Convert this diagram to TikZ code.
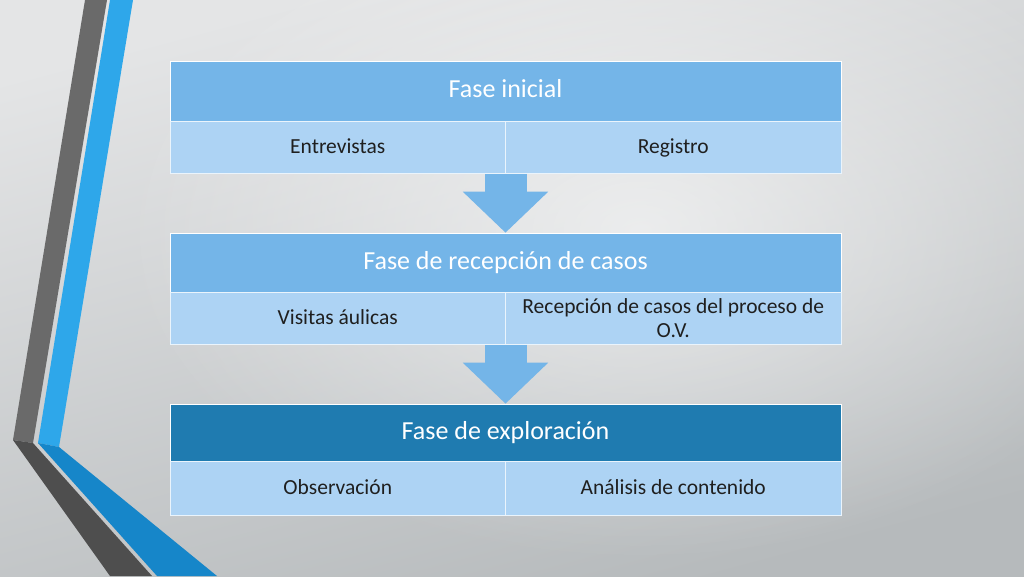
\documentclass[tikz,border=0pt]{standalone}
\usepackage{fontspec}
\setmainfont{Carlito}
\usetikzlibrary{positioning,arrows.meta,fadings}

\definecolor{fondoA}{HTML}{E4E5E6}
\definecolor{fondoB}{HTML}{B6BABC}
\definecolor{azulclaro}{HTML}{74B5E8}
\definecolor{azulpalido}{HTML}{ADD3F4}
\definecolor{azuloscuro}{HTML}{1F7BB0}
\definecolor{grisbanda}{HTML}{6A6A6A}
\definecolor{grisosc}{HTML}{4E4E4E}
\definecolor{azulbanda}{HTML}{2EA7EA}
\definecolor{azulbandaosc}{HTML}{1686C9}

\tikzfading[name=resplandor, inner color=transparent!0, outer color=transparent!100]

\tikzset{
	fase/.style={rectangle, fill=azulclaro, draw=white, line width=0.6pt, minimum width=671pt, text=white, font=\fontsize{26}{30}\selectfont, inner sep=0pt, text height=18pt, text depth=5pt},
	tarea/.style={rectangle, fill=azulpalido, draw=white!75!azulpalido, line width=0.6pt, minimum width=335.5pt, minimum height=52pt, text=black!88, font=\fontsize{21.5}{24}\selectfont, inner sep=0pt, align=center, text height=15pt, text depth=4pt},
	flecha/.style={line width=42pt, azulclaro, -{Triangle[length=41pt,width=83pt]}}
}

\begin{document}
\begin{tikzpicture}[x=1pt,y=-1pt]
	\useasboundingbox (0,0) rectangle (1024,576);
	\shade[top color=fondoA, bottom color=fondoB, shading angle=15] (0,0) rectangle (1024,576);
	\fill[white, path fading=resplandor, opacity=0.6] (640,230) ellipse (520 and 330);

	% bandas de la izquierda
	\fill[grisbanda] (85,0) -- (107,0) -- (33,443) -- (13,440) -- cycle;
	\fill[grisosc] (13,440) -- (33,443) -- (152,576) -- (110,576) -- cycle;
	\fill[azulbanda] (110,0) -- (133,0) -- (59,447) -- (38,443) -- cycle;
	\fill[azulbandaosc] (38,443) -- (59,447) -- (217,576) -- (157,576) -- cycle;

	\node[fase, minimum height=60pt] (f1) at (505.5, 91) {Fase inicial};
	\node[tarea, below right=0pt and 0pt of f1.south west] (t1a) {Entrevistas};
	\node[tarea, below left=0pt and 0pt of f1.south east] (t1b) {Registro};

	\node[fase, minimum height=59pt] (f2) at (505.5, 262.5) {Fase de recepción de casos};
	\node[tarea, below right=0pt and 0pt of f2.south west] (t2a) {Visitas áulicas};
	\node[tarea, text height=, text depth=, below left=0pt and 0pt of f2.south east] (t2b) {Recepción de casos del proceso de\\O.V.};

	\node[fase, fill=azuloscuro, minimum height=57pt] (f3) at (505.5, 432.5) {Fase de exploración};
	\node[tarea, minimum height=54pt, below right=0pt and 0pt of f3.south west] (t3a) {Observación};
	\node[tarea, minimum height=54pt, below left=0pt and 0pt of f3.south east] (t3b) {Análisis de contenido};

	\draw[flecha] (f1.south |- t1a.south) -- (f2.north);
	\draw[flecha] (f2.south |- t2a.south) -- (f3.north);
\end{tikzpicture}
\end{document}
